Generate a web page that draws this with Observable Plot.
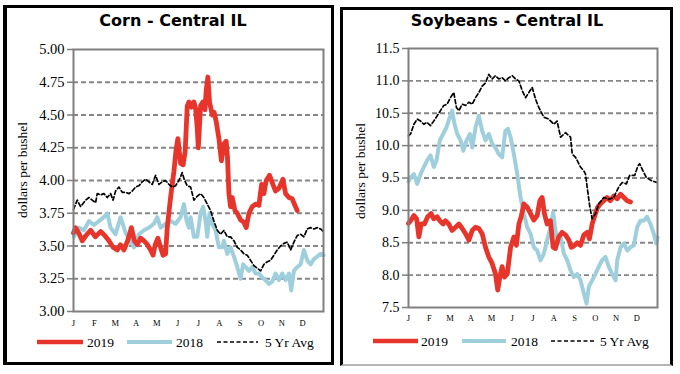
<!DOCTYPE html>
<html><head><meta charset="utf-8">
<script src="https://cdn.jsdelivr.net/npm/d3@7"></script>
<script src="https://cdn.jsdelivr.net/npm/@observablehq/plot@0.6"></script>
<style>
html,body{margin:0;padding:0;background:#fff;}
body{width:680px;height:374px;overflow:hidden;position:relative;font-family:"Liberation Serif","Times New Roman",Times,"DejaVu Serif",serif;}
.box{position:absolute;box-sizing:border-box;border-style:solid;border-color:#000;}
.title{position:absolute;font-family:"DejaVu Sans",Verdana,sans-serif;font-weight:bold;font-size:16px;line-height:16px;white-space:nowrap;transform:translateX(-50%);color:#000;}
.ylab{position:absolute;font-family:"Liberation Serif","Times New Roman",Times,"DejaVu Serif",serif;font-size:13.5px;line-height:14px;white-space:nowrap;transform:translate(-50%,-50%) rotate(-90deg);color:#000;}
.chart{position:absolute;}
#legend{position:absolute;left:0;top:0;pointer-events:none;}
</style></head><body>
<div class="box" style="left:3px;top:5px;width:331px;height:360px;border-width:3px 3px 3px 4px;"></div>
<div class="box" style="left:340px;top:7px;width:333px;height:359px;border-width:3px 3px 2px 3px;border-bottom-color:#b5b5b5;"></div>
<div class="title" style="left:173px;top:13px;">Corn - Central IL</div>
<div class="title" style="left:507px;top:13px;">Soybeans - Central IL</div>
<div class="ylab" style="left:23px;top:170px;">dollars per bushel</div>
<div class="ylab" style="left:361px;top:171px;">dollars per bushel</div>
<div class="chart" id="corn" style="left:0px;top:35px;"></div>
<div class="chart" id="soy" style="left:340px;top:35px;"></div>
<svg id="legend" width="680" height="374"></svg>
<script>
const SERIF = '"Liberation Serif", "Times New Roman", Times, "DejaVu Serif", serif';
const months = ["J","F","M","A","M","J","J","A","S","O","N","D"];
const seriesNames = ["2019","2018","5 Yr Avg"];
const cornTicks = [3.00,3.25,3.50,3.75,4.00,4.25,4.50,4.75,5.00];
const soyTicks = [7.5,8.0,8.5,9.0,9.5,10.0,10.5,11.0,11.5];

// [month position (0 = Jan 1, 12 = Dec 31), price]
const corn2019 = [[0.00,3.60],[0.10,3.64],[0.25,3.60],[0.42,3.54],[0.60,3.58],[0.82,3.62],[1.05,3.57],[1.30,3.61],[1.50,3.58],[1.70,3.54],[1.90,3.49],[2.10,3.47],[2.25,3.51],[2.42,3.47],[2.60,3.54],[2.78,3.64],[2.92,3.54],[3.06,3.51],[3.22,3.56],[3.38,3.54],[3.55,3.51],[3.70,3.47],[3.82,3.43],[3.92,3.51],[4.05,3.56],[4.18,3.49],[4.30,3.43],[4.42,3.44],[4.50,3.64],[4.66,3.87],[4.82,4.07],[4.92,4.23],[5.01,4.32],[5.14,4.13],[5.26,4.12],[5.36,4.22],[5.46,4.57],[5.54,4.60],[5.66,4.56],[5.78,4.60],[5.86,4.55],[5.94,4.40],[5.99,4.25],[6.10,4.57],[6.21,4.60],[6.31,4.54],[6.37,4.69],[6.45,4.79],[6.53,4.60],[6.66,4.50],[6.75,4.52],[6.85,4.45],[6.98,4.32],[7.10,4.15],[7.22,4.28],[7.33,4.30],[7.39,4.18],[7.46,3.90],[7.54,3.80],[7.62,3.87],[7.75,3.77],[7.86,3.75],[8.02,3.70],[8.18,3.68],[8.29,3.64],[8.42,3.75],[8.58,3.80],[8.74,3.82],[8.90,3.81],[9.03,3.97],[9.14,3.90],[9.25,4.00],[9.41,4.04],[9.57,3.97],[9.70,3.92],[9.86,3.94],[10.05,4.01],[10.18,3.90],[10.34,3.87],[10.50,3.86],[10.60,3.82],[10.74,3.77]];
const corn2018 = [[0.02,3.57],[0.26,3.64],[0.50,3.62],[0.74,3.69],[0.98,3.66],[1.22,3.69],[1.46,3.72],[1.62,3.75],[1.78,3.64],[2.02,3.59],[2.26,3.72],[2.50,3.60],[2.74,3.54],[2.90,3.49],[3.14,3.59],[3.38,3.62],[3.62,3.64],[3.86,3.67],[4.02,3.72],[4.18,3.64],[4.42,3.67],[4.66,3.69],[4.90,3.67],[5.14,3.72],[5.30,3.82],[5.43,3.69],[5.54,3.64],[5.62,3.72],[5.78,3.57],[5.94,3.57],[6.10,3.75],[6.22,3.80],[6.34,3.69],[6.42,3.57],[6.53,3.75],[6.66,3.67],[6.82,3.62],[6.98,3.49],[7.14,3.49],[7.22,3.54],[7.38,3.44],[7.54,3.49],[7.70,3.42],[7.86,3.34],[8.02,3.25],[8.14,3.36],[8.26,3.34],[8.42,3.31],[8.58,3.34],[8.74,3.29],[8.90,3.29],[9.06,3.26],[9.22,3.24],[9.38,3.21],[9.54,3.23],[9.70,3.29],[9.86,3.24],[10.02,3.29],[10.18,3.24],[10.34,3.29],[10.45,3.16],[10.58,3.31],[10.74,3.34],[10.90,3.36],[11.06,3.47],[11.22,3.39],[11.38,3.36],[11.54,3.40],[11.70,3.42],[11.86,3.44],[12.00,3.43]];
const corn5yr = [[0.00,3.78],[0.18,3.85],[0.34,3.80],[0.58,3.85],[0.74,3.87],[0.90,3.85],[1.06,3.83],[1.14,3.90],[1.30,3.89],[1.46,3.90],[1.62,3.87],[1.78,3.90],[1.90,3.85],[2.02,3.92],[2.18,3.95],[2.34,3.91],[2.50,3.91],[2.66,3.90],[2.82,3.92],[2.98,3.95],[3.14,3.96],[3.30,3.99],[3.46,4.01],[3.62,3.99],[3.78,3.97],[3.94,4.04],[4.10,3.97],[4.26,3.99],[4.42,4.00],[4.58,3.97],[4.74,3.95],[4.90,3.96],[5.06,4.00],[5.22,4.06],[5.33,4.00],[5.46,3.96],[5.62,3.95],[5.78,3.85],[5.94,3.88],[6.10,3.90],[6.26,3.87],[6.42,3.82],[6.58,3.77],[6.74,3.69],[6.90,3.62],[7.06,3.59],[7.22,3.62],[7.38,3.57],[7.54,3.57],[7.70,3.54],[7.86,3.49],[8.02,3.47],[8.18,3.44],[8.34,3.43],[8.50,3.39],[8.66,3.35],[8.82,3.33],[8.98,3.31],[9.14,3.36],[9.30,3.38],[9.46,3.39],[9.62,3.43],[9.78,3.47],[9.94,3.50],[10.10,3.52],[10.26,3.53],[10.42,3.47],[10.58,3.53],[10.74,3.58],[10.90,3.59],[11.06,3.57],[11.22,3.63],[11.38,3.64],[11.54,3.63],[11.70,3.64],[11.86,3.63],[12.00,3.61]];

const soy2019 = [[0.00,8.80],[0.10,8.84],[0.26,8.92],[0.39,8.87],[0.50,8.59],[0.61,8.79],[0.77,8.79],[0.92,8.90],[1.09,8.95],[1.22,8.87],[1.38,8.90],[1.51,8.84],[1.67,8.79],[1.78,8.84],[1.94,8.79],[2.10,8.69],[2.27,8.74],[2.43,8.79],[2.59,8.72],[2.75,8.64],[2.91,8.54],[3.07,8.69],[3.23,8.74],[3.39,8.72],[3.55,8.64],[3.71,8.43],[3.87,8.28],[4.03,8.18],[4.19,8.02],[4.30,7.77],[4.40,7.97],[4.51,8.13],[4.63,7.97],[4.76,8.02],[4.92,8.43],[5.08,8.59],[5.20,8.46],[5.32,8.79],[5.43,8.90],[5.56,9.10],[5.72,9.05],[5.88,8.95],[6.04,8.85],[6.20,8.92],[6.33,9.15],[6.44,9.20],[6.55,8.95],[6.68,8.79],[6.84,8.84],[6.97,8.43],[7.08,8.41],[7.24,8.59],[7.40,8.66],[7.57,8.62],[7.73,8.54],[7.84,8.43],[7.97,8.45],[8.13,8.50],[8.29,8.46],[8.45,8.62],[8.61,8.66],[8.72,8.56],[8.85,8.79],[9.01,8.95],[9.12,9.05],[9.25,9.10],[9.41,9.15],[9.57,9.20],[9.73,9.15],[9.89,9.22],[10.06,9.18],[10.22,9.25],[10.38,9.20],[10.54,9.15],[10.70,9.13]];
const soy2018 = [[0.00,9.45],[0.10,9.51],[0.26,9.56],[0.42,9.41],[0.58,9.56],[0.74,9.67],[0.89,9.77],[1.06,9.85],[1.22,9.67],[1.35,9.77],[1.51,10.08],[1.67,10.18],[1.83,10.28],[1.99,10.44],[2.10,10.54],[2.22,10.33],[2.35,10.18],[2.51,10.08],[2.64,9.92],[2.80,10.08],[2.96,10.18],[3.07,9.97],[3.23,10.28],[3.39,10.46],[3.55,10.23],[3.71,10.08],[3.87,10.18],[4.03,10.03],[4.19,9.97],[4.35,9.87],[4.51,9.82],[4.67,10.23],[4.79,10.26],[4.92,10.13],[5.08,9.87],[5.24,9.56],[5.40,9.20],[5.56,8.95],[5.72,8.74],[5.88,8.64],[6.04,8.43],[6.20,8.38],[6.36,8.23],[6.52,8.33],[6.68,8.54],[6.84,8.74],[6.97,8.97],[7.08,8.69],[7.20,8.49],[7.33,8.59],[7.49,8.33],[7.65,8.23],[7.81,8.07],[7.97,7.97],[8.13,8.02],[8.29,7.92],[8.45,7.72],[8.58,7.56],[8.69,7.82],[8.85,7.92],[9.01,8.02],[9.17,8.13],[9.33,8.23],[9.49,8.28],[9.65,8.13],[9.81,8.02],[9.98,7.92],[10.06,8.23],[10.22,8.43],[10.38,8.49],[10.54,8.38],[10.70,8.43],[10.86,8.46],[11.02,8.74],[11.18,8.84],[11.34,8.84],[11.50,8.90],[11.66,8.79],[11.82,8.64],[11.94,8.49],[12.00,8.58]];
const soy5yr = [[0.00,10.15],[0.10,10.18],[0.26,10.33],[0.42,10.41],[0.58,10.38],[0.74,10.33],[0.89,10.36],[1.06,10.31],[1.22,10.38],[1.38,10.46],[1.54,10.54],[1.70,10.62],[1.86,10.64],[2.02,10.74],[2.18,10.82],[2.31,10.59],[2.43,10.54],[2.59,10.64],[2.75,10.62],[2.91,10.67],[3.07,10.64],[3.23,10.74],[3.39,10.82],[3.55,10.92],[3.71,10.97],[3.87,11.10],[4.03,11.03],[4.19,11.08],[4.35,11.03],[4.51,11.05],[4.67,11.00],[4.84,11.05],[5.00,11.08],[5.16,11.03],[5.32,11.00],[5.48,10.85],[5.64,10.74],[5.80,10.82],[5.96,10.90],[6.12,10.72],[6.28,10.59],[6.52,10.44],[6.76,10.41],[7.00,10.33],[7.16,10.38],[7.33,10.13],[7.57,10.20],[7.81,10.13],[7.89,9.87],[8.05,9.82],[8.29,9.67],[8.45,9.61],[8.53,9.56],[8.61,9.36],[8.74,9.05],[8.85,8.87],[9.01,8.95],[9.17,9.10],[9.41,9.20],[9.65,9.17],[9.89,9.20],[10.13,9.36],[10.30,9.43],[10.50,9.41],[10.66,9.54],[10.90,9.54],[11.06,9.69],[11.14,9.72],[11.30,9.61],[11.46,9.51],[11.70,9.46],[11.98,9.43]];

const RED = "#e8352b", BLUE = "#9fcfdc", GRID = "#858585", FRAME = "#7f7f7f";

function panel(el, o) {
  const chart = Plot.plot({
    width: o.width, height: o.height,
    marginLeft: o.ml, marginRight: o.mr, marginTop: o.mt, marginBottom: o.mb,
    style: {fontFamily: SERIF, background: "transparent", overflow: "visible", color: "#000"},
    x: {domain: [0, 12]},
    y: {domain: [o.ticks[0], o.ticks[o.ticks.length - 1]]},
    marks: [
      Plot.ruleY(o.ticks.slice(1, -1), {stroke: GRID, strokeWidth: 1.8, strokeDasharray: "5,3"}),
      Plot.axisY(o.ticks, {tickFormat: o.fmt, tickSize: 6, tickPadding: 3, fontSize: o.tickFont, fontFamily: SERIF, stroke: FRAME, strokeWidth: 1.5, label: null}),
      Plot.axisX(d3.range(12), {tickFormat: i => months[i], tickSize: 0, tickPadding: o.monthPad, fontSize: 8.5, fontFamily: SERIF, label: null}),
      Plot.line(o.s2018, {x: d => d[0], y: d => d[1], stroke: BLUE, strokeWidth: 4, strokeLinejoin: "round"}),
      Plot.line(o.s2019, {x: d => d[0], y: d => d[1], stroke: RED, strokeWidth: 4.8, strokeLinejoin: "round"}),
      Plot.line(o.s5, {x: d => d[0], y: d => d[1], stroke: "#000", strokeWidth: 1.7, strokeDasharray: "4,2.5"}),
      Plot.frame({stroke: FRAME, strokeWidth: 2})
    ]
  });
  document.getElementById(el).appendChild(chart);
}

panel("corn", {width: 335, height: 300, ml: 73, mr: 12, mt: 14, mb: 24,
  ticks: cornTicks, fmt: d => d.toFixed(2), tickFont: 14.5, monthPad: 8,
  s2019: corn2019, s2018: corn2018, s5: corn5yr});
panel("soy", {width: 335, height: 300, ml: 68, mr: 18, mt: 13, mb: 28,
  ticks: soyTicks, fmt: d => d.toFixed(1), tickFont: 14, monthPad: 7,
  s2019: soy2019, s2018: soy2018, s5: soy5yr});

// legends
const legendItems = [
  {y: 342, x1: 37, x2: 83, tx: 87, name: seriesNames[0], stroke: RED, w: 4.5, dash: null},
  {y: 342, x1: 127, x2: 172, tx: 176, name: seriesNames[1], stroke: BLUE, w: 4, dash: null},
  {y: 342, x1: 217, x2: 258, tx: 265, name: seriesNames[2], stroke: "#000", w: 1.7, dash: "4,2.5"},
  {y: 341, x1: 373, x2: 418, tx: 421, name: seriesNames[0], stroke: RED, w: 4.5, dash: null},
  {y: 341, x1: 462, x2: 506, tx: 511, name: seriesNames[1], stroke: BLUE, w: 4, dash: null},
  {y: 341, x1: 551, x2: 595, tx: 600, name: seriesNames[2], stroke: "#000", w: 1.7, dash: "4,2.5"}
];
const lg = d3.select("#legend");
lg.selectAll("line").data(legendItems).join("line")
  .attr("x1", d => d.x1).attr("x2", d => d.x2).attr("y1", d => d.y).attr("y2", d => d.y)
  .attr("stroke", d => d.stroke).attr("stroke-width", d => d.w)
  .attr("stroke-dasharray", d => d.dash);
lg.selectAll("text").data(legendItems).join("text")
  .attr("x", d => d.tx).attr("y", d => d.y + 4.5)
  .style("font-family", SERIF).attr("font-size", 13.5)
  .attr("fill", "#000").text(d => d.name);
</script>
</body></html>
